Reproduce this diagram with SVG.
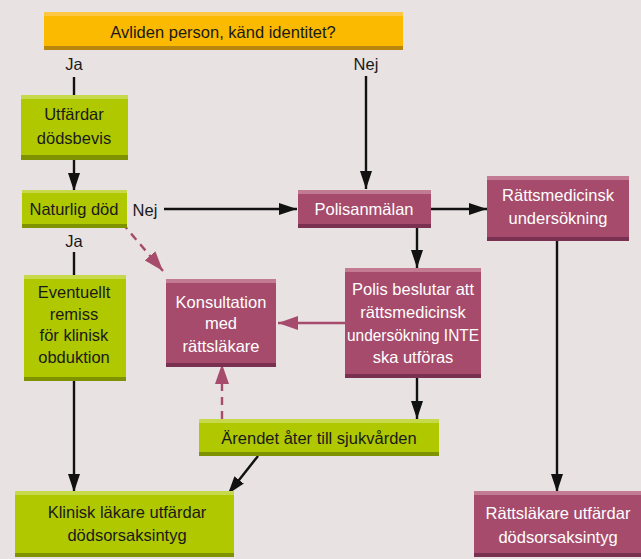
<svg xmlns="http://www.w3.org/2000/svg" width="641" height="559" viewBox="0 0 641 559">
<style>
text{font-family:"Liberation Sans",Arial,sans-serif;font-size:16.5px;text-anchor:middle;dominant-baseline:central}
.dk{fill:#1a1a1a}
.wt{fill:#ffffff}
.y{fill:#fbb900}.yt{fill:#fdc742}.yb{fill:#b8860a}
.g{fill:#afc800}.gt{fill:#c6d94a}.gb{fill:#7f9300}
.p{fill:#a64b6b}.pt{fill:#c27b93}.pb{fill:#7a3050}
.ln{stroke:#111;stroke-width:2.4;fill:none}
.pl{stroke:#a64b6b;stroke-width:2.4;fill:none}
.ds{stroke-dasharray:8 6}
</style>
<defs>
<marker id="ab" viewBox="0 0 18 12" refX="18" refY="6" markerWidth="18" markerHeight="12" markerUnits="userSpaceOnUse" orient="auto"><path d="M0,0L18,6L0,12z" fill="#111"/></marker>
<marker id="ap" viewBox="0 0 20 14" refX="20" refY="7" markerWidth="20" markerHeight="14" markerUnits="userSpaceOnUse" orient="auto"><path d="M0,0L20,7L0,14z" fill="#a64b6b"/></marker>
</defs>
<rect width="641" height="559" fill="#e8e2e3"/>

<g id="connectors">
<text x="74" y="64" class="dk">Ja</text>
<line class="ln" x1="74" y1="77" x2="74" y2="95"/>
<text x="366" y="64" class="dk">Nej</text>
<line class="ln" x1="366" y1="76" x2="366" y2="189" marker-end="url(#ab)"/>
<line class="ln" x1="74" y1="160" x2="74" y2="191" marker-end="url(#ab)"/>
<text x="145" y="210" class="dk">Nej</text>
<line class="ln" x1="164" y1="209" x2="297" y2="209" marker-end="url(#ab)"/>
<text x="74" y="241" class="dk">Ja</text>
<line class="ln" x1="74" y1="252" x2="74" y2="275"/>
<line class="ln" x1="74" y1="381" x2="74" y2="492" marker-end="url(#ab)"/>
<line class="ln" x1="431" y1="209" x2="487" y2="209" marker-end="url(#ab)"/>
<line class="ln" x1="417" y1="228" x2="417" y2="268" marker-end="url(#ab)"/>
<line class="ln" x1="557" y1="241" x2="557" y2="492" marker-end="url(#ab)"/>
<line class="ln" x1="417" y1="378" x2="417" y2="419" marker-end="url(#ab)"/>
<line class="ln" x1="258" y1="456" x2="228" y2="494" marker-end="url(#ab)"/>
<line class="pl" x1="345" y1="323" x2="278" y2="323" marker-end="url(#ap)"/>
<line class="pl ds" x1="122" y1="223" x2="163" y2="271" marker-end="url(#ap)"/>
<line class="pl ds" x1="222" y1="419" x2="222" y2="364" marker-end="url(#ap)"/>
</g>

<g id="start">
<rect class="y" x="44" y="12" width="359" height="38"/>
<rect class="yt" x="44" y="12" width="359" height="4"/>
<rect class="yb" x="44" y="46" width="359" height="4"/>
<text x="223" y="32" class="dk">Avliden person, känd identitet?</text>
</g>

<g id="utfardar">
<rect class="g" x="21" y="95" width="107" height="65"/>
<rect class="gt" x="21" y="95" width="107" height="4"/>
<rect class="gb" x="21" y="155" width="107" height="5"/>
<text x="74" y="114" class="dk">Utfärdar</text>
<text x="74" y="138" class="dk">dödsbevis</text>
</g>

<g id="naturlig">
<rect class="g" x="22" y="190" width="105" height="38"/>
<rect class="gt" x="22" y="190" width="105" height="3"/>
<rect class="gb" x="22" y="224" width="105" height="4"/>
<text x="74" y="209" class="dk">Naturlig död</text>
</g>

<g id="eventuellt">
<rect class="g" x="24" y="275" width="102" height="106"/>
<rect class="gt" x="24" y="275" width="102" height="4"/>
<rect class="gb" x="24" y="377" width="102" height="4"/>
<text x="74" y="292" class="dk">Eventuellt</text>
<text x="74" y="314" class="dk">remiss</text>
<text x="74" y="335" class="dk">för klinisk</text>
<text x="74" y="357" class="dk">obduktion</text>
</g>

<g id="klinisk">
<rect class="g" x="15" y="491" width="219" height="66"/>
<rect class="gt" x="15" y="491" width="219" height="4"/>
<rect class="gb" x="15" y="553" width="219" height="4"/>
<text x="127" y="512" class="dk">Klinisk läkare utfärdar</text>
<text x="127" y="535" class="dk">dödsorsaksintyg</text>
</g>

<g id="polisanmalan">
<rect class="p" x="298" y="190" width="133" height="38"/>
<rect class="pt" x="298" y="190" width="133" height="4"/>
<rect class="pb" x="298" y="224" width="133" height="4"/>
<text x="364" y="209" class="wt">Polisanmälan</text>
</g>

<g id="rattsmedicinsk">
<rect class="p" x="487" y="176" width="142" height="65"/>
<rect class="pt" x="487" y="176" width="142" height="4"/>
<rect class="pb" x="487" y="237" width="142" height="4"/>
<text x="558" y="195" class="wt">Rättsmedicinsk</text>
<text x="558" y="218" class="wt">undersökning</text>
</g>

<g id="polisbeslutar">
<rect class="p" x="345" y="268" width="136" height="110"/>
<rect class="pt" x="345" y="268" width="136" height="4"/>
<rect class="pb" x="345" y="374" width="136" height="4"/>
<text x="413" y="289" class="wt">Polis beslutar att</text>
<text x="413" y="312" class="wt">rättsmedicinsk</text>
<text x="413" y="335" class="wt" textLength="132" lengthAdjust="spacingAndGlyphs">undersökning INTE</text>
<text x="413" y="357" class="wt">ska utföras</text>
</g>

<g id="konsultation">
<rect class="p" x="166" y="279" width="110" height="88"/>
<rect class="pt" x="166" y="279" width="110" height="4"/>
<rect class="pb" x="166" y="363" width="110" height="4"/>
<text x="221" y="302" class="wt">Konsultation</text>
<text x="221" y="323" class="wt">med</text>
<text x="221" y="346" class="wt">rättsläkare</text>
</g>

<g id="arendet">
<rect class="g" x="199" y="419" width="240" height="37"/>
<rect class="gt" x="199" y="419" width="240" height="4"/>
<rect class="gb" x="199" y="452" width="240" height="4"/>
<text x="319" y="438" class="dk">Ärendet åter till sjukvården</text>
</g>

<g id="rattslakare">
<rect class="p" x="474" y="491" width="167" height="66"/>
<rect class="pt" x="474" y="491" width="167" height="4"/>
<rect class="pb" x="474" y="553" width="167" height="4"/>
<text x="558" y="513" class="wt">Rättsläkare utfärdar</text>
<text x="558" y="537" class="wt">dödsorsaksintyg</text>
</g>
</svg>
